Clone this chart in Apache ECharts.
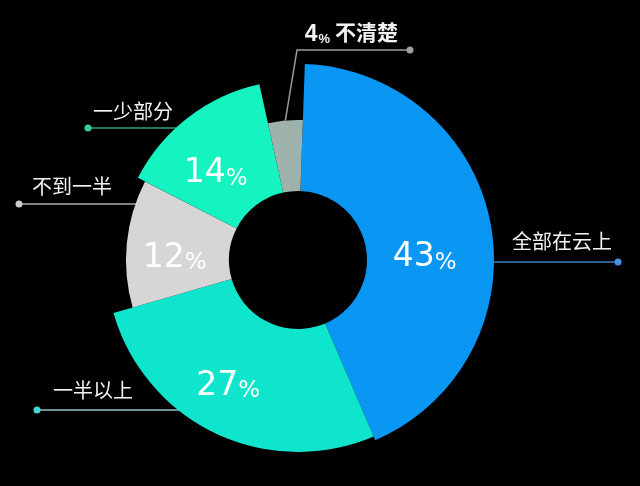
<!DOCTYPE html>
<html>
<head>
<meta charset="utf-8">
<script src="https://cdn.jsdelivr.net/npm/echarts@6/dist/echarts.min.js"></script>
<style>
html,body{margin:0;padding:0;background:#000;}
#c{width:640px;height:486px;}
</style>
</head>
<body>
<div id="c"></div>
<script>
// ---- data ----
const categories = ['全部在云上', '一半以上', '不到一半', '一少部分', '不清楚'];
const values = [43, 27, 12, 14, 4];

// ---- styles / layout ----
const sliceColors = ['#0a97f4', '#0fe4cc', '#d6d6d6', '#15f3c0', '#9db2ad'];
const sliceOuterR = [196, 192, 172, 180, 140];
const holeR = 69;
const CX = 298, CY = 260, START = 88;
const outerLabelCfg = [
  {side: 'right', lineY: 262, dotX: 618, gap: 6,  rise: 21, line: '#3d7cc2', dot: '#4a90e2'},
  {side: 'left',  lineY: 410, dotX: 37,  gap: 16, rise: 20, line: '#8fc4c6', dot: '#3ed8d8'},
  {side: 'left',  lineY: 204, dotX: 19,  gap: 13, rise: 18, line: '#a8a8a8', dot: '#cccccc'},
  {side: 'left',  lineY: 128, dotX: 88,  gap: 5,  rise: 17, line: '#389a80', dot: '#34cf9f'},
  {side: 'right', lineY: 50,  dotX: 410, gap: 12, rise: 18, line: '#9c9c9c', dot: '#a0a0a0', elbowX: 297}
];
const innerLabelOffset = [[-6, 19], [-12, 1], [11, 8], [0, 17], null];
const CJK = '"Noto Sans CJK SC", "Noto Sans", sans-serif';

function outerLabel(i) {
  const cfg = outerLabelCfg[i];
  const lh = 2 * (cfg.rise - 4);
  const isLeft = cfg.side === 'left';
  const pad = isLeft ? [0, 0, 0, cfg.gap + 3.5] : [0, cfg.gap + 3.5, 0, 0];
  const rich = {
    d: {width: 7, height: 7, borderRadius: 3.5, backgroundColor: cfg.dot, lineHeight: 8}
  };
  let formatter;
  if (i === 4) {
    rich.n = {fontSize: 23, fontWeight: 'bold', color: '#f2f2f2', fontFamily: '"Liberation Sans", sans-serif', lineHeight: lh, verticalAlign: 'bottom'};
    rich.p = {fontSize: 13, fontWeight: 'bold', color: '#f2f2f2', fontFamily: '"Liberation Sans", sans-serif', lineHeight: lh, verticalAlign: 'bottom', padding: [0, 0, 0, 1]};
    rich.t = {fontSize: 21, fontWeight: 'bold', color: '#f2f2f2', fontFamily: CJK, lineHeight: lh, padding: [0, cfg.gap + 3.5, 0, 5]};
    formatter = '{n|' + values[i] + '}{p|%}{t|' + categories[i] + '}\n{d|}';
  } else {
    rich.t = {fontSize: 20, color: '#f2f2f2', fontFamily: CJK, lineHeight: lh, padding: pad};
    formatter = '{t|' + categories[i] + '}\n{d|}';
  }
  return {show: true, position: 'outside', formatter: formatter, rich: rich};
}

function sliceSeries(i) {
  const cfg = outerLabelCfg[i];
  const isLeft = cfg.side === 'left';
  const lh = 2 * (cfg.rise - 4);
  return {
    type: 'pie',
    center: [CX, CY],
    radius: [holeR, sliceOuterR[i]],
    startAngle: START,
    clockwise: true,
    avoidLabelOverlap: false,
    silent: true,
    animation: false,
    z: 2,
    itemStyle: {borderWidth: 0},
    data: values.map((v, j) => j === i ? {
      value: v, name: categories[j],
      itemStyle: {color: sliceColors[j]},
      label: outerLabel(j),
      labelLine: {show: true, length: 10, length2: 10, lineStyle: {color: cfg.line, width: 1.5}}
    } : {
      value: v, name: categories[j],
      itemStyle: {color: 'rgba(0,0,0,0)'},
      label: {show: false}, labelLine: {show: false}
    }),
    labelLayout: function (p) {
      if (p.dataIndex !== i) return {};
      const R = sliceOuterR[i];
      let pts;
      if (cfg.elbowX != null) {
        const midA = (START + (values.slice(0, i).reduce((a, b) => a + b, 0) + values[i] / 2) / values.reduce((a, b) => a + b, 0) * -360) * Math.PI / 180;
        const s = [CX + R * Math.cos(midA), CY - R * Math.sin(midA)];
        pts = [s, [cfg.elbowX, cfg.lineY], [cfg.dotX, cfg.lineY]];
      } else {
        const dy = cfg.lineY - CY;
        const dx = Math.sqrt(Math.max(R * R - dy * dy, 0));
        const sx = isLeft ? CX - dx + 1 : CX + dx - 1;
        pts = [[sx, cfg.lineY], [(sx + cfg.dotX) / 2, cfg.lineY], [cfg.dotX, cfg.lineY]];
      }
      return {
        x: isLeft ? cfg.dotX - 3.5 : cfg.dotX + 3.5,
        y: cfg.lineY - (lh + 4),
        align: isLeft ? 'left' : 'right',
        verticalAlign: 'top',
        labelLinePoints: pts
      };
    }
  };
}

const series = values.map((v, i) => sliceSeries(i));
series.push({
  type: 'pie',
  center: [CX, CY],
  radius: [holeR, 195],
  startAngle: START,
  clockwise: true,
  avoidLabelOverlap: false,
  silent: true,
  animation: false,
  z: 5,
  label: {
    formatter: p => '{n|' + p.value + '}{p|%}',
    rich: {
      n: {fontSize: 33, color: '#ffffff', fontFamily: '"DejaVu Sans", sans-serif', lineHeight: 40, verticalAlign: 'bottom'},
      p: {fontSize: 23, color: '#ffffff', fontFamily: '"DejaVu Sans", sans-serif', lineHeight: 30, verticalAlign: 'bottom'}
    }
  },
  labelLine: {show: false},
  data: values.map((v, j) => ({
    value: v, name: categories[j],
    itemStyle: {color: 'rgba(0,0,0,0)'},
    label: innerLabelOffset[j] ? {show: true, position: 'inside', offset: innerLabelOffset[j]} : {show: false}
  }))
});

const chart = echarts.init(document.getElementById('c'), null, {renderer: 'canvas'});
chart.setOption({
  backgroundColor: '#000000',
  animation: false,
  series: series
});
</script>
</body>
</html>
